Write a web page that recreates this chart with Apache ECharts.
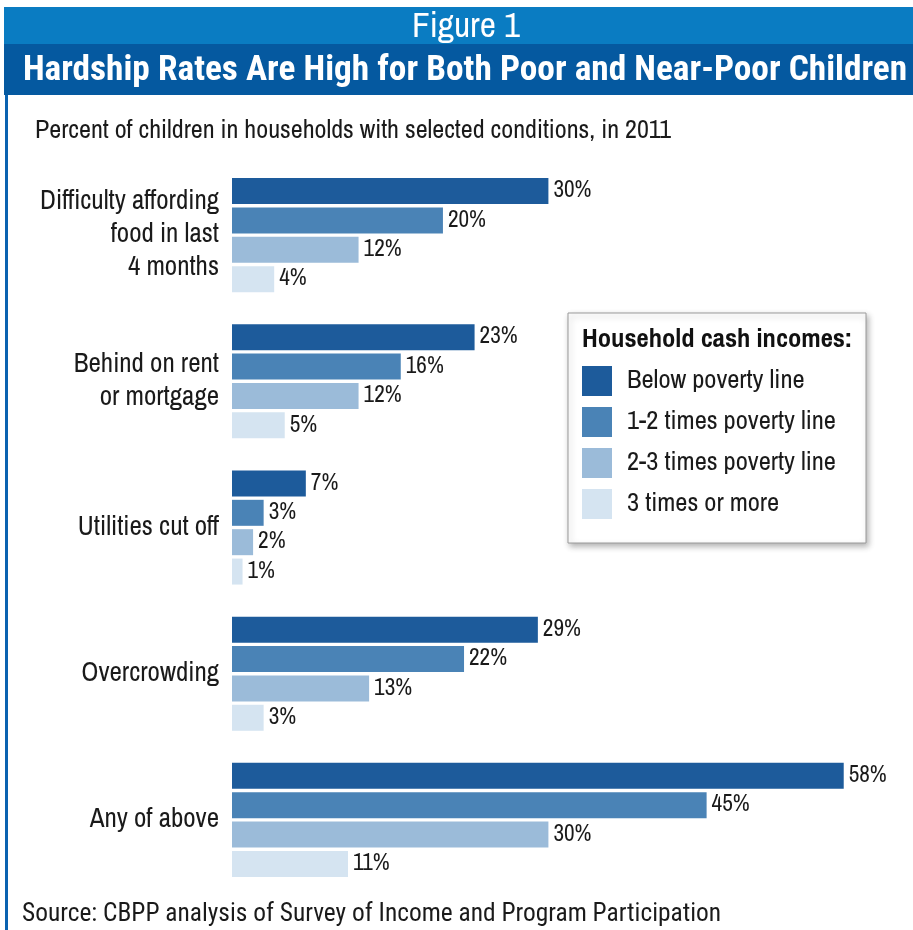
<!DOCTYPE html>
<html>
<head>
<meta charset="utf-8">
<script src="https://cdn.jsdelivr.net/npm/echarts@6/dist/echarts.min.js"></script>
<style>
html,body{margin:0;padding:0;background:#fff;}
#chart{width:913px;height:930px;}
</style>
</head>
<body>
<div id="chart"></div>
<script>
const categories = ["Difficulty affording\nfood in last\n4 months", "Behind on rent\nor mortgage", "Utilities cut off", "Overcrowding", "Any of above"];
const seriesNames = ["Below poverty line", "1-2 times poverty line", "2-3 times poverty line", "3 times or more"];
const belowPoverty = [30, 23, 7, 29, 58];
const oneToTwo = [20, 16, 3, 22, 45];
const twoToThree = [12, 12, 2, 13, 30];
const threeOrMore = [4, 5, 1, 3, 11];
const colors = ["#1d5b9b", "#4a83b6", "#9bbbd9", "#d5e4f1"];

const NARROW = "'Archivo Narrow', 'Roboto Condensed', 'Liberation Sans Narrow', sans-serif";
const COND = "'Roboto Condensed', 'Archivo Narrow', sans-serif";

// choose a font size so a text spans a target width (layout only)
const mctx = document.createElement('canvas').getContext('2d');
function fitSize(text, weight, family, target) {
  mctx.font = weight + " 100px " + family;
  const w = mctx.measureText(text).width;
  return Math.round(100 * target / w * 10) / 10;
}

const sCat = fitSize("Difficulty affording", "normal", NARROW, 179);
const sVal = fitSize("30%", "normal", NARROW, 38);
const sLeg = fitSize("2-3 times poverty line", "normal", NARROW, 209);
const sLegT = fitSize("Household cash incomes:", "bold", NARROW, 270);
const sFig = fitSize("Figure 1", "normal", NARROW, 108);
const sTitle = fitSize("Hardship Rates Are High for Both Poor and Near-Poor Children", "bold", COND, 884);
const sSub = fitSize("Percent of children in households with selected conditions, in 2011", "normal", NARROW, 635);
const sSrc = fitSize("Source: CBPP analysis of Survey of Income and Program Participation", "normal", COND, 700);

const chart = echarts.init(document.getElementById('chart'), null, {renderer: 'canvas'});
const values = [belowPoverty, oneToTwo, twoToThree, threeOrMore];

const option = {
  animation: false,
  backgroundColor: '#fff',
  grid: {left: 232, top: 162, width: 675, height: 731, containLabel: false, outerBoundsMode: 'none'},
  xAxis: {type: 'value', min: 0, max: 64, show: false},
  yAxis: {
    type: 'category', data: categories, inverse: true,
    axisLine: {show: false}, axisTick: {show: false},
    axisLabel: {fontFamily: NARROW, fontSize: sCat, color: '#1a1a1a', margin: 13, lineHeight: 33, align: 'right'}
  },
  legend: {
    left: 582, top: 366, orient: 'vertical',
    itemWidth: 30, itemHeight: 30, itemGap: 11,
    icon: 'rect',
    padding: 0,
    textStyle: {fontFamily: NARROW, fontSize: sLeg, color: '#1a1a1a', padding: [0, 0, 0, 10]},
    data: seriesNames, selectedMode: false
  },
  graphic: [
    {type: 'rect', shape: {x: 4, y: 7, width: 909, height: 37}, style: {fill: '#0a7cc2'}, silent: true},
    {type: 'rect', shape: {x: 4, y: 44, width: 909, height: 51}, style: {fill: '#0559a0'}, silent: true},
    {type: 'rect', shape: {x: 5, y: 95, width: 3, height: 835}, style: {fill: '#0a62b0'}, silent: true},
    {type: 'text', x: 466, y: 27, style: {text: 'Figure 1', fill: '#fff', font: sFig + "px " + NARROW, textAlign: 'center', textVerticalAlign: 'middle'}, silent: true},
    {type: 'text', x: 465, y: 71, style: {text: 'Hardship Rates Are High for Both Poor and Near-Poor Children', fill: '#fff', font: "bold " + sTitle + "px " + COND, textAlign: 'center', textVerticalAlign: 'middle'}, silent: true},
    {type: 'text', x: 35, y: 131, style: {text: 'Percent of children in households with selected conditions, in 2011', fill: '#1a1a1a', font: sSub + "px " + NARROW, textAlign: 'left', textVerticalAlign: 'middle'}, silent: true},
    {type: 'text', x: 22, y: 915, style: {text: 'Source: CBPP analysis of Survey of Income and Program Participation', fill: '#1a1a1a', font: sSrc + "px " + COND, textAlign: 'left', textVerticalAlign: 'middle'}, silent: true},
    {type: 'rect', z: -1, shape: {x: 568, y: 313, width: 298, height: 230}, style: {fill: '#fff', stroke: '#9a9a9a', lineWidth: 1, shadowBlur: 6, shadowOffsetX: 2, shadowOffsetY: 3, shadowColor: 'rgba(0,0,0,0.3)'}, silent: true},
    {type: 'text', x: 582, y: 340, style: {text: 'Household cash incomes:', fill: '#111', font: "bold " + sLegT + "px " + NARROW, textAlign: 'left', textVerticalAlign: 'middle'}, silent: true}
  ],
  series: seriesNames.map((name, i) => ({
    name: name,
    type: 'bar',
    data: values[i],
    barWidth: 26,
    barGap: '13%',
    barCategoryGap: '22%',
    itemStyle: {color: colors[i]},
    label: {show: true, position: 'right', distance: 5, formatter: '{c}%', fontFamily: NARROW, fontSize: sVal, color: '#1a1a1a'}
  }))
};
chart.setOption(option);
</script>
</body>
</html>
